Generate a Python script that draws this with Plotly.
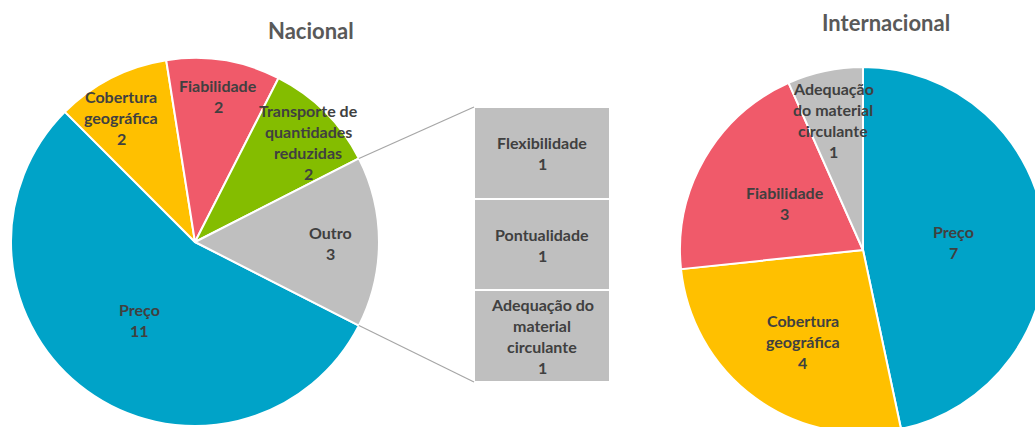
import math
import plotly.graph_objects as go

# ---------------- data ----------------
nac_labels = ["Preço", "Cobertura<br>geográfica", "Fiabilidade",
              "Transporte de<br>quantidades<br>reduzidas", "Outro"]
nac_values = [11, 2, 2, 2, 3]

outro_labels = ["Adequação do<br>material<br>circulante", "Pontualidade", "Flexibilidade"]  # bottom -> top
outro_values = [1, 1, 1]

int_labels = ["Preço", "Cobertura<br>geográfica", "Fiabilidade",
              "Adequação<br>do material<br>circulante"]
int_values = [7, 4, 3, 1]

# ---------------- style ----------------
W, H = 1050, 440
FONT = "Lato"
TXT = "#404040"
TITLE = "#595959"
nac_colors = ["#00A3C8", "#FFC000", "#F05A6A", "#84BD00", "#BFBFBF"]
int_colors = ["#00A3C8", "#FFC000", "#F05A6A", "#BFBFBF"]
bar_color = "#BFBFBF"
LINE_H = 21
LBL_SIZE = 16
TITLE_SIZE = 22

nac_geom = dict(cx=195, cy=242, r=184)
int_geom = dict(cx=863, cy=250, r=183)
# label placement: (radial fraction, angular nudge in degrees)
nac_label_pos = [(0.519, -0.8), (0.785, -3.8), (0.803, 0.0), (0.822, 3.4), (0.739, 0.6)]
int_label_pos = [(0.494, 0.9), (0.596, -2.6), (0.499, 1.3), (0.730, -0.8)]
bar_px = dict(x0=474, x1=610, y0=107, y1=382)


def px_x(x):
    return x / W


def px_y(y):
    return (H - y) / H


def domain(g):
    return dict(x=[px_x(g["cx"] - g["r"]), px_x(g["cx"] + g["r"])],
                y=[px_y(g["cy"] + g["r"]), px_y(g["cy"] - g["r"])])


fig = go.Figure()

nac_rot = 90 + nac_values[-1] / sum(nac_values) * 180
fig.add_trace(go.Pie(labels=[l.replace("<br>", " ") for l in nac_labels], values=nac_values,
                     sort=False, direction="clockwise", rotation=nac_rot,
                     marker=dict(colors=nac_colors, line=dict(color="white", width=2)),
                     textinfo="none", hoverinfo="label+value",
                     domain=domain(nac_geom), showlegend=False))

fig.add_trace(go.Pie(labels=[l.replace("<br>", " ") for l in int_labels], values=int_values,
                     sort=False, direction="clockwise", rotation=0,
                     marker=dict(colors=int_colors, line=dict(color="white", width=2)),
                     textinfo="none", hoverinfo="label+value",
                     domain=domain(int_geom), showlegend=False))

# stacked bar for "Outro"
for lab, v in zip(outro_labels, outro_values):
    fig.add_trace(go.Bar(x=[0], y=[v], width=1, marker=dict(color=bar_color, line=dict(color="white", width=2)),
                         name=lab.replace("<br>", " "), showlegend=False, hoverinfo="name+y"))

annotations = []


def add_lines(text, x, y, xref="paper", yref="paper"):
    lines = text.split("<br>")
    n = len(lines)
    for i, ln in enumerate(lines):
        annotations.append(dict(text=ln, x=x, y=y, xref=xref, yref=yref, showarrow=False,
                                xanchor="center", yanchor="middle",
                                yshift=((n - 1) / 2 - i) * LINE_H,
                                font=dict(family=FONT, size=LBL_SIZE, color=TXT, weight="bold")))


def pie_labels(labels, values, rot, g, pos):
    tot = sum(values)
    a = rot
    for lab, v, (f, nudge) in zip(labels, values, pos):
        span = v / tot * 360
        mid = math.radians(a + span / 2 + nudge)
        x = g["cx"] + f * g["r"] * math.sin(mid)
        y = g["cy"] - f * g["r"] * math.cos(mid)
        add_lines(f"{lab}<br>{v}", px_x(x), px_y(y))
        a += span


pie_labels(nac_labels, nac_values, nac_rot, nac_geom, nac_label_pos)
pie_labels(int_labels, int_values, 0, int_geom, int_label_pos)

cum = 0
for lab, v in zip(outro_labels, outro_values):
    add_lines(f"{lab}<br>{v}", 0, cum + v / 2, xref="x", yref="y")
    cum += v

for ttl, tx, ty in [("Nacional", 311, 31), ("Internacional", 886, 22)]:
    annotations.append(dict(text=ttl, x=px_x(tx), y=px_y(ty), xref="paper", yref="paper",
                            xanchor="center", yanchor="middle", showarrow=False,
                            font=dict(family=FONT, size=TITLE_SIZE, color=TITLE, weight="bold")))

# connector lines from the "Outro" slice edges to the bar
tot = sum(nac_values)
a_start = nac_rot - nac_values[-1] / tot * 360
a_end = nac_rot
shapes = []
for ang, by in [(a_start, bar_px["y0"]), (a_end, bar_px["y1"])]:
    t = math.radians(ang)
    sx = nac_geom["cx"] + nac_geom["r"] * math.sin(t)
    sy = nac_geom["cy"] - nac_geom["r"] * math.cos(t)
    shapes.append(dict(type="line", xref="paper", yref="paper",
                       x0=px_x(sx), y0=px_y(sy), x1=px_x(bar_px["x0"]), y1=px_y(by),
                       line=dict(color="#A6A6A6", width=1.2)))

fig.update_layout(
    width=W, height=H, margin=dict(l=0, r=0, t=0, b=0),
    paper_bgcolor="white", plot_bgcolor="white",
    barmode="stack", bargap=0,
    xaxis=dict(domain=[px_x(bar_px["x0"]), px_x(bar_px["x1"])], range=[-0.5, 0.5],
               visible=False, fixedrange=True),
    yaxis=dict(domain=[px_y(bar_px["y1"]), px_y(bar_px["y0"])], range=[0, sum(outro_values)],
               visible=False, fixedrange=True),
    annotations=annotations, shapes=shapes, showlegend=False,
)

page_css = ("document.body.style.margin='0';"
            "document.body.style.overflow='hidden';"
            "document.documentElement.style.overflow='hidden';")
fig.write_html("out.html", post_script=page_css, config={"displayModeBar": False})
